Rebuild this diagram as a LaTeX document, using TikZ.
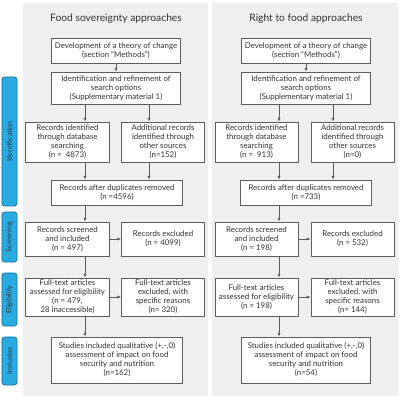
\documentclass[tikz,border=0pt]{standalone}
\usepackage{fontspec}
\setmainfont{Lato}
\usetikzlibrary{arrows.meta}

\definecolor{panelgray}{HTML}{EFEFEF}
\definecolor{boxgray}{HTML}{5E5E5E}
\definecolor{txtgray}{HTML}{333333}
\definecolor{sideblue}{HTML}{29ABE2}
\definecolor{sideedge}{HTML}{1D6F96}

\newcommand{\boxfont}{\fontsize{5.6}{6.4}\selectfont}
\newcommand{\titlefont}{\fontsize{7.3}{8.6}\selectfont}
\newcommand{\sidefont}{\fontsize{5}{6}\selectfont}

\tikzset{
  box/.style={draw=boxgray, line width=0.7pt, fill=white, text=txtgray, font=\boxfont, align=center, inner sep=0.5pt},
  wide/.style={box, minimum width=3.2cm},
  half/.style={box, minimum width=2.075cm},
  stage/.style={draw=sideedge, line width=0.5pt, fill=sideblue, rounded corners=2pt, rotate=90, minimum height=0.375cm, text=txtgray, font=\sidefont, inner sep=0pt},
  panel/.style={fill=panelgray},
  heading/.style={font=\titlefont, text=txtgray},
  arr/.style={draw=txtgray!80, line width=0.4pt, -{Latex[length=2.6pt,width=2.2pt]}},
}

\begin{document}
\begin{tikzpicture}[x=0.025cm,y=-0.025cm]
    \useasboundingbox (0,0) rectangle (400,400);
    % panels
    \fill[panel] (23,3) rectangle (208,396);
    \fill[panel] (212,3) rectangle (398,396);
    % stages
    \node[stage, minimum width=3.225cm] (st-idf) at (9.5,141.5) {Identification};
    \node[stage, minimum width=1.25cm] (st-scr) at (9.5,237) {Screening};
    \node[stage, minimum width=1.325cm] (st-elig) at (9.5,299.5) {Eligibility};
    \node[stage, minimum width=1.2cm] (st-incl) at (9.5,361) {Inclusion};

    % food sovereignty
    \node[heading] (fs-title) at (116,19) {Food sovereignty approaches};
    \node[wide, minimum height=0.625cm] (fs-dev) at (116,50.5) {Development of a theory of change\\(section “Methods”)};
    \node[wide, minimum height=0.8cm] (fs-iden) at (116,88) {Identification and refinement of\\search options\\(Supplementary material 1)};
    \node[half, minimum height=1cm] (fs-db) at (67.5,142) {Records identified\\through database\\searching\\(n = \ 4873)};
    \node[half, minimum height=1cm] (fs-other) at (163,142) {Additional records\\identified through\\other sources\\(n=152)};
    \node[wide, minimum width=3.25cm, minimum height=0.625cm] (fs-dup) at (117,192.5) {Records after duplicates removed\\(n =4596)};
    \node[half, minimum height=0.85cm] (fs-scr) at (67.5,239) {Records screened\\and included\\(n = 497)};
    \node[half, minimum height=0.85cm] (fs-exc) at (163,239) {Records excluded\\(n = 4099)};
    \node[half, minimum height=0.95cm] (fs-elig) at (67.5,297) {Full-text articles\\assessed for eligibility\\(n = 479,\\28 inaccessible)};
    \node[half, minimum height=0.95cm] (fs-full) at (163,297) {Full-text articles\\excluded, with\\specific reasons\\(n= 320)};
    \node[wide, minimum width=3.25cm, minimum height=1.15cm] (fs-incl) at (117,360) {Studies included qualitative (+,-,0)\\assessment of impact on food\\security and nutrition\\(n=162)};

    \coordinate (fs-c1) at (85,0);
    \coordinate (fs-c2) at (149,0);
    \draw[arr] (fs-dev) -- (fs-iden);
    \draw[arr] (fs-iden.south -| fs-c1) -- (fs-db.north -| fs-c1);
    \draw[arr] (fs-iden.south -| fs-c2) -- (fs-other.north -| fs-c2);
    \draw[arr] (fs-db.south -| fs-c1) -- (fs-dup.north -| fs-c1);
    \draw[arr] (fs-other.south -| fs-c2) -- (fs-dup.north -| fs-c2);
    \draw[arr] (fs-dup.south -| fs-c1) -- (fs-scr.north -| fs-c1);
    \draw[arr] (fs-scr) -- (fs-exc);
    \draw[arr] (fs-scr.south -| fs-c1) -- (fs-elig.north -| fs-c1);
    \draw[arr] (fs-elig) -- (fs-full);
    \draw[arr] (fs-elig.south -| fs-c1) -- (fs-incl.north -| fs-c1);

    % right to food
    \node[heading] (rf-title) at (306,19) {Right to food approaches};
    \node[wide, minimum height=0.625cm] (rf-dev) at (306,50.5) {Development of a theory of change\\(section “Methods”)};
    \node[wide, minimum height=0.8cm] (rf-iden) at (306,88) {Identification and refinement of\\search options\\(Supplementary material 1)};
    \node[half, minimum height=1cm] (rf-db) at (256.5,142) {Records identified\\through database\\searching\\(n = \ 913)};
    \node[half, minimum height=1cm] (rf-other) at (352.5,142) {Additional records\\identified through\\other sources\\(n=0)};
    \node[wide, minimum width=3.25cm, minimum height=0.625cm] (rf-dup) at (306,192.5) {Records after duplicates removed\\(n =733)};
    \node[half, minimum height=0.85cm] (rf-scr) at (256.5,239) {Records screened\\and included\\(n = 198)};
    \node[half, minimum height=0.85cm] (rf-exc) at (352.5,239) {Records excluded\\(n = 532)};
    \node[half, minimum height=0.95cm] (rf-elig) at (256.5,297) {Full-text articles\\assessed for eligibility\\(n = 198)};
    \node[half, minimum height=0.95cm] (rf-full) at (352.5,297) {Full-text articles\\excluded, with\\specific reasons\\(n= 144)};
    \node[wide, minimum height=1.15cm] (rf-incl) at (306,360) {Studies included qualitative (+,-,0)\\assessment of impact on food\\security and nutrition\\(n=54)};

    \coordinate (rf-c1) at (279,0);
    \coordinate (rf-c2) at (333,0);
    \draw[arr] (rf-dev) -- (rf-iden);
    \draw[arr] (rf-iden.south -| rf-c1) -- (rf-db.north -| rf-c1);
    \draw[arr] (rf-iden.south -| rf-c2) -- (rf-other.north -| rf-c2);
    \draw[arr] (rf-db.south -| rf-c1) -- (rf-dup.north -| rf-c1);
    \draw[arr] (rf-other.south -| rf-c2) -- (rf-dup.north -| rf-c2);
    \draw[arr] (rf-dup.south -| rf-c1) -- (rf-scr.north -| rf-c1);
    \draw[arr] (rf-scr) -- (rf-exc);
    \draw[arr] (rf-scr.south -| rf-c1) -- (rf-elig.north -| rf-c1);
    \draw[arr] (rf-elig) -- (rf-full);
    \draw[arr] (rf-elig.south -| rf-c1) -- (rf-incl.north -| rf-c1);
\end{tikzpicture}
\end{document}
